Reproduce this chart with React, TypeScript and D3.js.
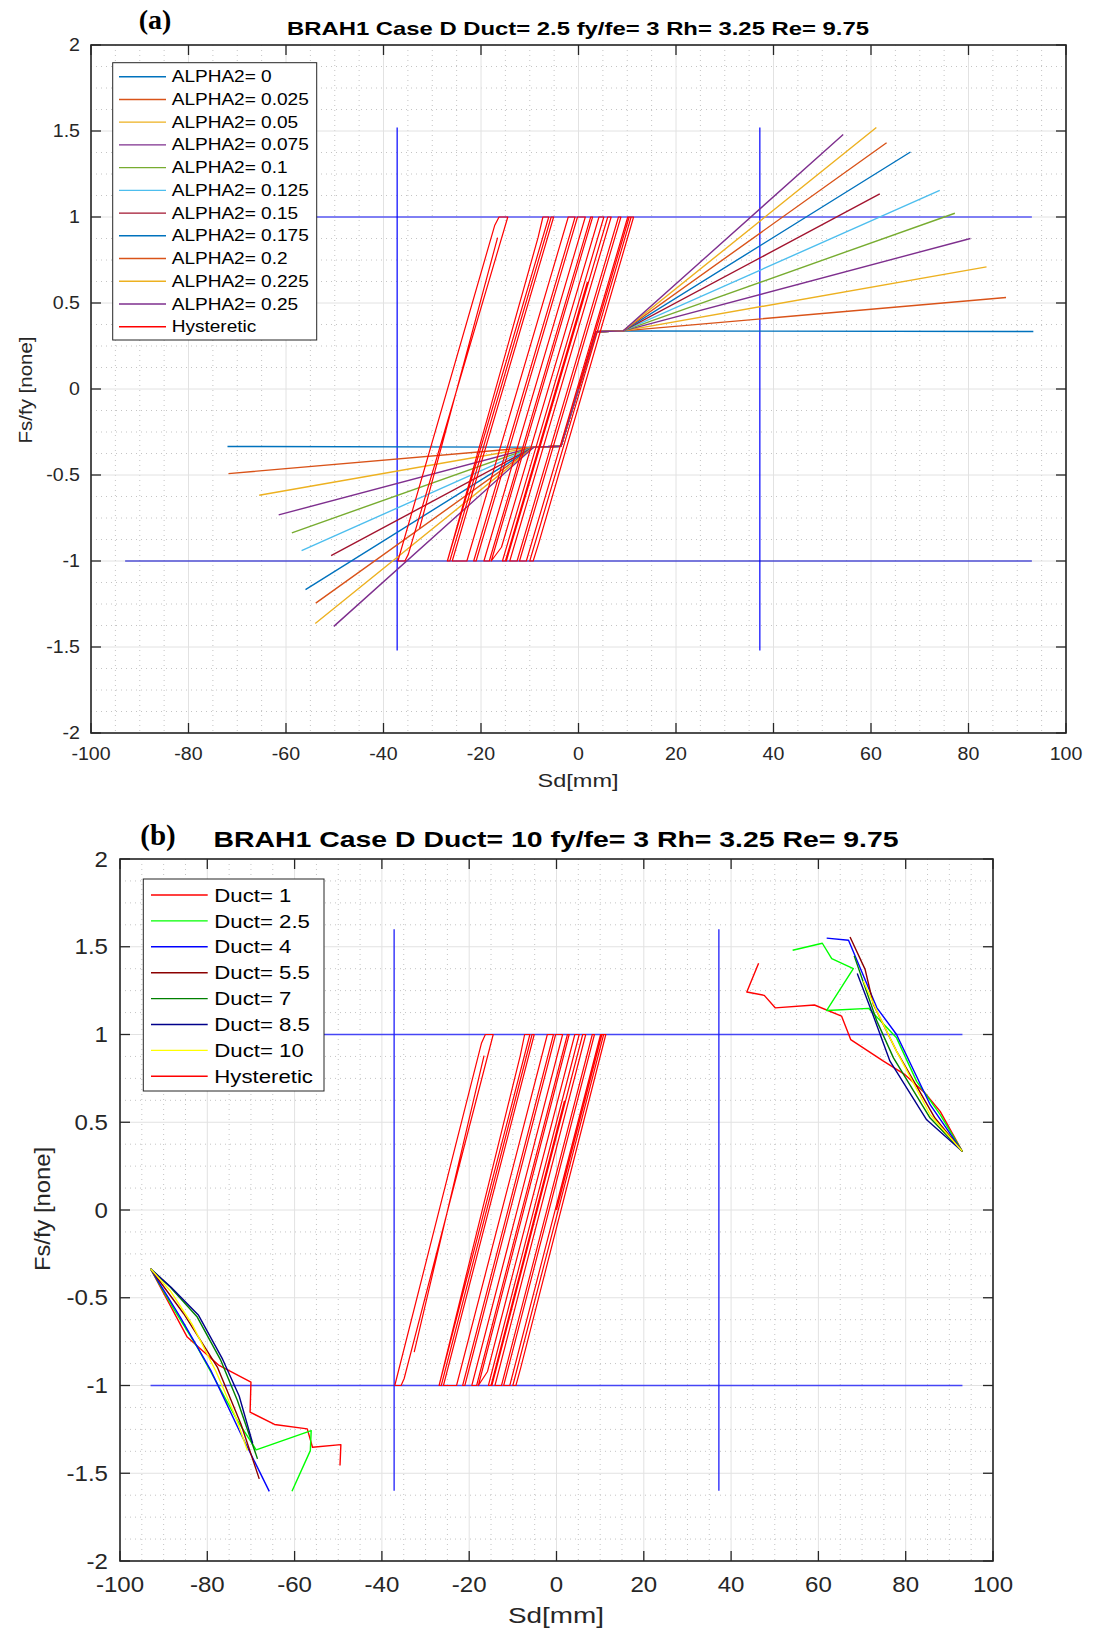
import React from "react";
import * as d3 from "d3";

const SANS = "'Liberation Sans', Arial, Helvetica, sans-serif";
const SERIF = "'Liberation Serif', 'Times New Roman', serif";

// ---------- shared axes ----------
const xTickValues = [-100, -80, -60, -40, -20, 0, 20, 40, 60, 80, 100];
const xTickLabels = ["-100", "-80", "-60", "-40", "-20", "0", "20", "40", "60", "80", "100"];
const yTickValues = [-2, -1.5, -1, -0.5, 0, 0.5, 1, 1.5, 2];
const yTickLabels = ["-2", "-1.5", "-1", "-0.5", "0", "0.5", "1", "1.5", "2"];
const xMinorStep = 5;
const yMinorStep = 0.125;

// ---------- reference lines ----------
const refVertX = [-37.2, 37.2];
const refVertHalfA = 1.52;
const refVertHalfB = 1.6;
const refHorY = [-1, 1];
const refHorHalf = 93;

// ---------- panel (a): ALPHA2 series ----------
const alphaNames = ["ALPHA2= 0", "ALPHA2= 0.025", "ALPHA2= 0.05", "ALPHA2= 0.075", "ALPHA2= 0.1", "ALPHA2= 0.125", "ALPHA2= 0.15", "ALPHA2= 0.175", "ALPHA2= 0.2", "ALPHA2= 0.225", "ALPHA2= 0.25"];
const alphaColors = ["#0072BD", "#D95319", "#EDB120", "#7E2F8E", "#77AC30", "#4DBEEE", "#A2142F", "#0072BD", "#D95319", "#EDB120", "#7E2F8E"];
const alphaNegX = [-72.0, -71.8, -65.5, -61.5, -58.8, -56.8, -50.75, -56.0, -53.9, -54.0, -50.2];
const alphaNegY = [-0.334, -0.492, -0.618, -0.732, -0.836, -0.94, -0.969, -1.166, -1.245, -1.363, -1.38];
const alphaPosX = [93.3, 87.7, 83.7, 80.4, 77.2, 74.1, 61.8, 68.1, 63.2, 61.1, 54.3];
const alphaPosY = [0.334, 0.532, 0.71, 0.875, 1.022, 1.155, 1.134, 1.378, 1.432, 1.52, 1.48];
const alphaKneeX = [-9.2, -3.6, 3.6, 9.2];
const alphaKneeY = [-0.338, -0.333, 0.333, 0.338];

// ---------- hysteretic loops (NaN = break) ----------
const hystX = [
  0, 10.4, 11.3, -8.2, -9.3, -10.0, 10.8, 10.1, -10.7, -12.1, 8.7, 8.2, -12.6, -14.1, 6.7, 6.0,
  -14.8, 1.8, -15.0, -15.6, 5.2, 4.2, -15.8, -17.9, 2.9, 2.5, -18.3, -19.4, 1.4, -17.0, 1.4, -0.2,
  -21.0, -21.5, -0.7, -2.1, -22.9, -25.9, -5.1, -5.6, -26.4, -26.9, -8.3, -7.3, -6.1, -26.9,
  NaN,
  -37.05, -17.2, -16.3, -14.5, -34.9, -35.6, -37.05,
  NaN,
  -16.6, -32.6,
];
const hystY = [
  0, 1, 1, -0.9, -1, -1, 1, 1, -1, -1, 1, 1, -1, -1, 1, 1,
  -1, 0.62, -1, -1, 1, 1, -0.92, -1, 1, 1, -1, -1, 1, -0.77, 1, 1,
  -1, -1, 1, 1, -1, -1, 1, 1, -1, -1, 0.88, 1, 1, -1,
  NaN,
  -1, 0.95, 1, 1, -0.96, -1, -1,
  NaN,
  0.88, -0.81,
];

// ---------- panel (b): Duct series ----------
const ductNames = ["Duct= 1", "Duct= 2.5", "Duct= 4", "Duct= 5.5", "Duct= 7", "Duct= 8.5", "Duct= 10"];
const ductColors = ["#ff0000", "#00ff00", "#0000ff", "#8b0000", "#008000", "#00008b", "#ffff00"];
const ductRightX = [
  [93.0, 87.9, 84.4, 79.85, 74.9, 67.4, 65.3, 59.1, 50.1, 47.6, 43.6, 46.3],
  [93.0, 87.9, 82.5, 77.9, 71.5, 61.9, 68.0, 63.05, 60.9, 54.1],
  [93.0, 85.6, 77.9, 73.4, 66.9, 61.9],
  [93.0, 86.7, 77.9, 72.6, 70.7, 67.25],
  [93.0, 85.6, 77.2, 73.4, 68.2],
  [93.0, 84.8, 76.4, 72.6, 68.9],
  [93.0, 85.6, 77.9, 73.4, 70.3],
];
const ductRightY = [
  [0.333, 0.562, 0.667, 0.771, 0.848, 0.971, 1.105, 1.168, 1.152, 1.223, 1.242, 1.406],
  [0.333, 0.543, 0.733, 0.981, 1.149, 1.137, 1.375, 1.432, 1.52, 1.48],
  [0.333, 0.6, 1.0, 1.152, 1.537, 1.549],
  [0.333, 0.524, 0.905, 1.171, 1.371, 1.556],
  [0.333, 0.524, 0.867, 1.076, 1.448],
  [0.333, 0.514, 0.848, 1.105, 1.347],
  [0.333, 0.543, 0.905, 1.133, 1.305],
];
const ductLeftX = [
  [-93.0, -84.6, -77.3, -70.0, -70.2, -64.6, -57.1, -55.9, -49.4, -49.6],
  [-93.0, -87.7, -82.3, -77.7, -73.1, -68.8, -56.2, -56.4, -60.6],
  [-93.0, -86.2, -79.2, -72.3, -65.8],
  [-93.0, -85.4, -77.7, -72.3, -68.1],
  [-93.0, -88.5, -82.3, -76.9, -73.1, -68.5],
  [-93.0, -88.3, -82.0, -76.5, -72.7, -69.6],
  [-93.0, -88.5, -83.5, -78.0, -73.5, -70.8],
];
const ductLeftY = [
  [-0.335, -0.724, -0.886, -0.981, -1.152, -1.222, -1.247, -1.352, -1.337, -1.456],
  [-0.335, -0.563, -0.781, -0.99, -1.2, -1.367, -1.257, -1.371, -1.603],
  [-0.335, -0.61, -0.914, -1.276, -1.603],
  [-0.335, -0.591, -0.895, -1.219, -1.532],
  [-0.335, -0.439, -0.61, -0.857, -1.086, -1.418],
  [-0.335, -0.44, -0.6, -0.85, -1.06, -1.33],
  [-0.335, -0.46, -0.65, -0.92, -1.18, -1.37],
];

const hystName = "Hysteretic";
const hystColor = "#ff0000";

// ---------- helpers ----------
type Sc = d3.ScaleLinear<number, number>;

function pathOf(xs: number[], ys: number[], sx: Sc, sy: Sc) {
  const pts = xs.map((x, i) => [x, ys[i]] as [number, number]);
  return (
    d3
      .line<[number, number]>()
      .defined((d) => !isNaN(d[0]) && !isNaN(d[1]))
      .x((d) => sx(d[0]))
      .y((d) => sy(d[1]))(pts) || ""
  );
}

function Txt(props: any) {
  const { x, y, size, anchor = "middle", weight = "normal", family = SANS, fill = "#262626", scaleX = 1.12, rotate = 0, textLength, children } = props;
  const sc = textLength ? 1 : scaleX;
  return (
    <text
      transform={`translate(${x},${y}) rotate(${rotate}) scale(${sc},1)`}
      fontSize={size}
      textAnchor={anchor}
      fontWeight={weight}
      fontFamily={family}
      fill={fill}
      textLength={textLength}
      lengthAdjust={textLength ? "spacingAndGlyphs" : undefined}
    >
      {children}
    </text>
  );
}

function Grid({ sx, sy }: { sx: Sc; sy: Sc }) {
  const [L, R] = sx.range();
  const [B, T] = sy.range();
  const minorX = d3.range(-100, 100.001, xMinorStep).filter((v) => Math.abs(v % 20) > 1e-6);
  const minorY = d3.range(-2, 2.0001, yMinorStep).filter((v) => Math.abs((v * 2) % 1) > 1e-6);
  return (
    <g>
      {minorX.map((v) => (
        <line key={"mx" + v} x1={sx(v)} x2={sx(v)} y1={T} y2={B} stroke="#c4c4c4" strokeWidth={1} strokeDasharray="1,4" />
      ))}
      {minorY.map((v) => (
        <line key={"my" + v} x1={L} x2={R} y1={sy(v)} y2={sy(v)} stroke="#c4c4c4" strokeWidth={1} strokeDasharray="1,4" />
      ))}
      {xTickValues.map((v) => (
        <line key={"gx" + v} x1={sx(v)} x2={sx(v)} y1={T} y2={B} stroke="#e2e2e2" strokeWidth={1} />
      ))}
      {yTickValues.map((v) => (
        <line key={"gy" + v} x1={L} x2={R} y1={sy(v)} y2={sy(v)} stroke="#e2e2e2" strokeWidth={1} />
      ))}
    </g>
  );
}

function Frame({ sx, sy, font, xLabBase, yLabRight, yLabDy }: any) {
  const [L, R] = sx.range();
  const [B, T] = sy.range();
  const tl = 10;
  return (
    <g>
      {xTickValues.map((v) => (
        <g key={"tx" + v}>
          <line x1={sx(v)} x2={sx(v)} y1={B} y2={B - tl} stroke="#262626" strokeWidth={1.3} />
          <line x1={sx(v)} x2={sx(v)} y1={T} y2={T + tl} stroke="#262626" strokeWidth={1.3} />
        </g>
      ))}
      {yTickValues.map((v) => (
        <g key={"ty" + v}>
          <line x1={L} x2={L + tl} y1={sy(v)} y2={sy(v)} stroke="#262626" strokeWidth={1.3} />
          <line x1={R} x2={R - tl} y1={sy(v)} y2={sy(v)} stroke="#262626" strokeWidth={1.3} />
        </g>
      ))}
      <rect x={L} y={T} width={R - L} height={B - T} fill="none" stroke="#262626" strokeWidth={1.6} />
      {xTickValues.map((v, i) => (
        <Txt key={"lx" + v} x={sx(v)} y={xLabBase} size={font}>
          {xTickLabels[i]}
        </Txt>
      ))}
      {yTickValues.map((v, i) => (
        <Txt key={"ly" + v} x={yLabRight} y={sy(v) + yLabDy} size={font} anchor="end">
          {yTickLabels[i]}
        </Txt>
      ))}
    </g>
  );
}

function RefLines({ sx, sy, half, hColors, hWidths, vColor, vWidth }: any) {
  return (
    <g>
      {refHorY.map((v, i) => (
        <line key={"h" + v} x1={sx(-refHorHalf)} x2={sx(refHorHalf)} y1={sy(v)} y2={sy(v)} stroke={hColors[i]} strokeWidth={hWidths[i]} />
      ))}
      {refVertX.map((v) => (
        <line key={"v" + v} x1={sx(v)} x2={sx(v)} y1={sy(-half)} y2={sy(half)} stroke={vColor} strokeWidth={vWidth} />
      ))}
    </g>
  );
}

export default function App() {
  // panel a
  const axA = d3.scaleLinear().domain([-100, 100]).range([91, 1066]);
  const ayA = d3.scaleLinear().domain([-2, 2]).range([733, 45]);
  // panel b
  const axB = d3.scaleLinear().domain([-100, 100]).range([120, 993]);
  const ayB = d3.scaleLinear().domain([-2, 2]).range([1561, 859]);

  const legA = { x0: 112.7, y0: 62.7, x1: 316.7, y1: 340, first: 76.7, step: 22.73, l0: 119, l1: 166, tx: 171.7, font: 16 };
  const legB = { x0: 143.3, y0: 879, x1: 324, y1: 1091, first: 895, step: 25.9, l0: 151, l1: 207.7, tx: 214.3, font: 18.5 };

  const legAItems = [...alphaNames.map((n, i) => ({ n, c: alphaColors[i] })), { n: hystName, c: hystColor }];
  const legBItems = [...ductNames.map((n, i) => ({ n, c: ductColors[i] })), { n: hystName, c: hystColor }];

  return (
    <svg width={1094} height={1638} style={{ position: "absolute", left: 0, top: 0, background: "#fff" }}>
      <rect x={0} y={0} width={1094} height={1638} fill="#fff" />

      {/* ================= Panel (a) ================= */}
      <rect x={91} y={45} width={975} height={688} fill="#fff" />
      <Grid sx={axA} sy={ayA} />
      <RefLines sx={axA} sy={ayA} half={refVertHalfA} hColors={["#0000c8", "#5a5af5"]} hWidths={[1.1, 1.6]} vColor="#0000ff" vWidth={1.2} />
      {alphaNames.map((n, i) => (
        <path
          key={n}
          d={pathOf([alphaNegX[i], ...alphaKneeX, alphaPosX[i]], [alphaNegY[i], ...alphaKneeY, alphaPosY[i]], axA, ayA)}
          fill="none"
          stroke={alphaColors[i]}
          strokeWidth={1.4}
        />
      ))}
      <path d={pathOf(hystX, hystY, axA, ayA)} fill="none" stroke={hystColor} strokeWidth={1.2} strokeLinejoin="round" />
      <Frame sx={axA} sy={ayA} font={17.5} xLabBase={760} yLabRight={80} yLabDy={6} />

      {/* legend a */}
      <rect x={legA.x0} y={legA.y0} width={legA.x1 - legA.x0} height={legA.y1 - legA.y0} fill="#fff" stroke="#262626" strokeWidth={1} />
      {legAItems.map((it, i) => {
        const y = legA.first + i * legA.step;
        return (
          <g key={"la" + i}>
            <line x1={legA.l0} x2={legA.l1} y1={y} y2={y} stroke={it.c} strokeWidth={1.4} />
            <Txt x={legA.tx} y={y + 5.6} size={legA.font} anchor="start" fill="#000" scaleX={1.19}>
              {it.n}
            </Txt>
          </g>
        );
      })}

      <Txt x={578} y={35} size={19} weight="bold" fill="#000" textLength={582}>
        BRAH1 Case D Duct= 2.5 fy/fe= 3 Rh= 3.25 Re= 9.75
      </Txt>
      <Txt x={155} y={29} size={28} weight="bold" family={SERIF} fill="#000" scaleX={1}>
        (a)
      </Txt>
      <Txt x={578} y={787} size={19} textLength={81}>
        Sd[mm]
      </Txt>
      <Txt x={32} y={390} size={18} rotate={-90} textLength={107}>
        Fs/fy [none]
      </Txt>

      {/* ================= Panel (b) ================= */}
      <rect x={120} y={859} width={873} height={702} fill="#fff" />
      <Grid sx={axB} sy={ayB} />
      <RefLines sx={axB} sy={ayB} half={refVertHalfB} hColors={["#4646f5", "#4646f5"]} hWidths={[1.7, 1.7]} vColor="#1e1efa" vWidth={1.3} />
      {ductNames.map((n, i) => (
        <g key={n}>
          <path d={pathOf(ductRightX[i], ductRightY[i], axB, ayB)} fill="none" stroke={ductColors[i]} strokeWidth={1.4} strokeLinejoin="round" />
          <path d={pathOf(ductLeftX[i], ductLeftY[i], axB, ayB)} fill="none" stroke={ductColors[i]} strokeWidth={1.4} strokeLinejoin="round" />
        </g>
      ))}
      <path d={pathOf(hystX, hystY, axB, ayB)} fill="none" stroke={hystColor} strokeWidth={1.2} strokeLinejoin="round" />
      <Frame sx={axB} sy={ayB} font={21.5} xLabBase={1592} yLabRight={108} yLabDy={7.5} />

      {/* legend b */}
      <rect x={legB.x0} y={legB.y0} width={legB.x1 - legB.x0} height={legB.y1 - legB.y0} fill="#fff" stroke="#262626" strokeWidth={1} />
      {legBItems.map((it, i) => {
        const y = legB.first + i * legB.step;
        return (
          <g key={"lb" + i}>
            <line x1={legB.l0} x2={legB.l1} y1={y} y2={y} stroke={it.c} strokeWidth={1.4} />
            <Txt x={legB.tx} y={y + 6.6} size={legB.font} anchor="start" fill="#000" scaleX={1.2}>
              {it.n}
            </Txt>
          </g>
        );
      })}

      <Txt x={556} y={847} size={22} weight="bold" fill="#000" textLength={685}>
        BRAH1 Case D Duct= 10 fy/fe= 3 Rh= 3.25 Re= 9.75
      </Txt>
      <Txt x={158} y={845} size={29} weight="bold" family={SERIF} fill="#000" scaleX={1}>
        (b)
      </Txt>
      <Txt x={556} y={1623} size={22.5} textLength={96}>
        Sd[mm]
      </Txt>
      <Txt x={49.5} y={1209} size={21.5} rotate={-90} textLength={124}>
        Fs/fy [none]
      </Txt>
    </svg>
  );
}
